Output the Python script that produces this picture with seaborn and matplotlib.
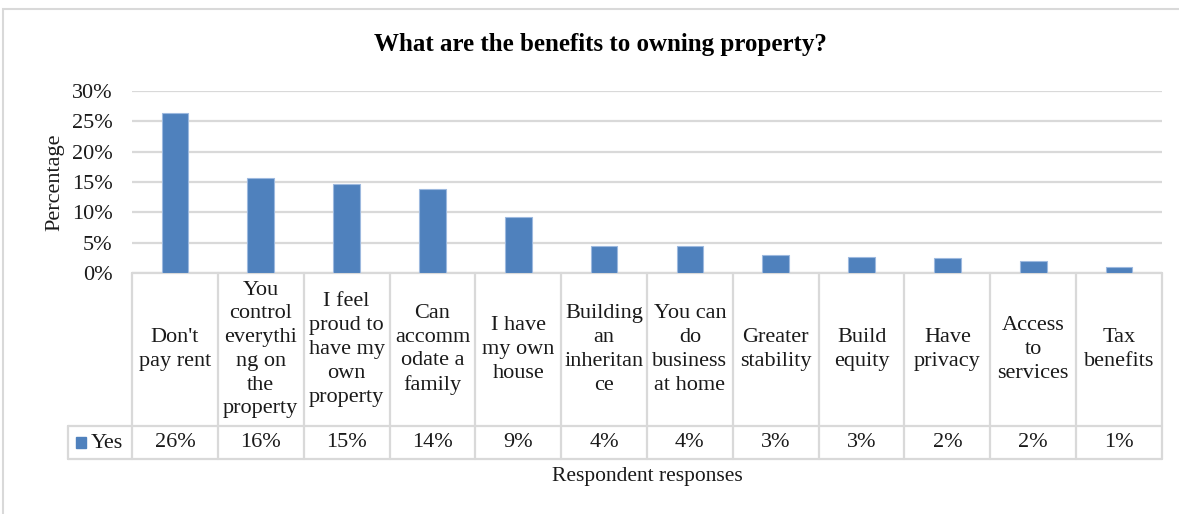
import matplotlib
matplotlib.use("Agg")
import matplotlib.pyplot as plt
import matplotlib.transforms as mtransforms
from matplotlib.patches import Rectangle
from matplotlib.ticker import FuncFormatter
import seaborn as sns
import pandas as pd

categories = [
    "Don't\npay rent",
    "You\ncontrol\neverythi\nng on\nthe\nproperty",
    "I feel\nproud to\nhave my\nown\nproperty",
    "Can\naccomm\nodate a\nfamily",
    "I have\nmy own\nhouse",
    "Building\nan\ninheritan\nce",
    "You can\ndo\nbusiness\nat home",
    "Greater\nstability",
    "Build\nequity",
    "Have\nprivacy",
    "Access\nto\nservices",
    "Tax\nbenefits",
]
values = [26.3, 15.6, 14.6, 13.9, 9.3, 4.4, 4.4, 3.0, 2.7, 2.4, 2.0, 1.0]
series_name = "Yes"
yticks = [0, 5, 10, 15, 20, 25, 30]
title = "What are the benefits to owning property?"
xlabel = "Respondent responses"
ylabel = "Percentage"

sns.set_theme(style="white")
plt.rcParams["font.family"] = ["Liberation Serif", "DejaVu Serif"]

W, H = 1179, 514
fig = plt.figure(figsize=(W / 100, H / 100), dpi=100)

# axes placement in pixels
ax_l, ax_r, ax_t, ax_b = 132, 1162, 91, 273
ax = fig.add_axes([ax_l / W, 1 - ax_b / H, (ax_r - ax_l) / W, (ax_b - ax_t) / H])

bar_color = "#4F81BD"
grid_color = "#D9D9D9"
text_color = "#1a1a1a"
fs = 16

df = pd.DataFrame({"cat": categories, "val": values})
sns.barplot(data=df, x="cat", y="val", color=bar_color, width=0.31,
            edgecolor="#9DB9DF", linewidth=0.8, saturation=1, ax=ax, zorder=3)

ax.set_ylim(0, 30)
ax.set_xlim(-0.5, len(categories) - 0.5)
ax.set_yticks(yticks)
ax.yaxis.set_major_formatter(FuncFormatter(lambda v, p: f"{v:.0f}%"))
ax.tick_params(axis="y", length=0, pad=14, labelsize=fs, labelcolor=text_color)
ax.set_xticks([])
ax.set_xlabel("")
ax.set_ylabel("")
ax.yaxis.grid(True, color=grid_color, linewidth=1.6, zorder=0)
for s in ax.spines.values():
    s.set_visible(False)

# data table under the plot
ax_h = ax_b - ax_t
px_per_cat = (ax_r - ax_l) / len(categories)
row1_bottom = -(426 - ax_b) / ax_h
row2_bottom = -(459 - ax_b) / ax_h
legend_left = -0.5 - (ax_l - 68) / px_per_cat
trans = mtransforms.blended_transform_factory(ax.transData, ax.transAxes)
lw = 1.6
n = len(categories)
# horizontal lines
ax.plot([-0.5, n - 0.5], [0, 0], transform=trans, color=grid_color, lw=lw, clip_on=False, zorder=2)
ax.plot([legend_left, n - 0.5], [row1_bottom, row1_bottom], transform=trans, color=grid_color, lw=lw, clip_on=False)
ax.plot([legend_left, n - 0.5], [row2_bottom, row2_bottom], transform=trans, color=grid_color, lw=lw, clip_on=False)
# vertical lines
for i in range(n + 1):
    ax.plot([i - 0.5, i - 0.5], [0, row2_bottom], transform=trans, color=grid_color, lw=lw, clip_on=False)
ax.plot([legend_left, legend_left], [row1_bottom, row2_bottom], transform=trans, color=grid_color, lw=lw, clip_on=False)

# cell texts
for i, (c, v) in enumerate(zip(categories, values)):
    ax.text(i, row1_bottom / 2, c, transform=trans, ha="center", va="center",
            fontsize=fs, color=text_color, linespacing=1.34, clip_on=False)
    ax.text(i, (row1_bottom + row2_bottom) / 2, f"{round(v):d}%", transform=trans,
            ha="center", va="center", fontsize=fs, color=text_color, clip_on=False)

# legend key in the table
fig.patches.append(Rectangle((76 / W, 1 - 448 / H), 10.5 / W, 11 / H,
                             transform=fig.transFigure, color=bar_color))
fig.text(91 / W, 1 - 443 / H, series_name, ha="left", va="center", fontsize=fs, color=text_color)

# labels and title
fig.text(600 / W, 1 - 45 / H, title, ha="center", va="center", fontsize=18,
         fontweight="bold", color="black")
fig.text((ax_l + ax_r) / 2 / W, 1 - 477 / H, xlabel, ha="center", va="center",
         fontsize=15.5, color=text_color)
fig.text(55 / W, 1 - 182 / H, ylabel, ha="center", va="center", rotation=90,
         fontsize=fs, color=text_color)

# outer chart border
fig.patches.append(Rectangle((3 / W, -0.05), 1.2, 1 - 9 / H + 0.05,
                             transform=fig.transFigure, fill=False,
                             edgecolor=grid_color, linewidth=1.5))

fig.savefig("out.png", dpi=100)
